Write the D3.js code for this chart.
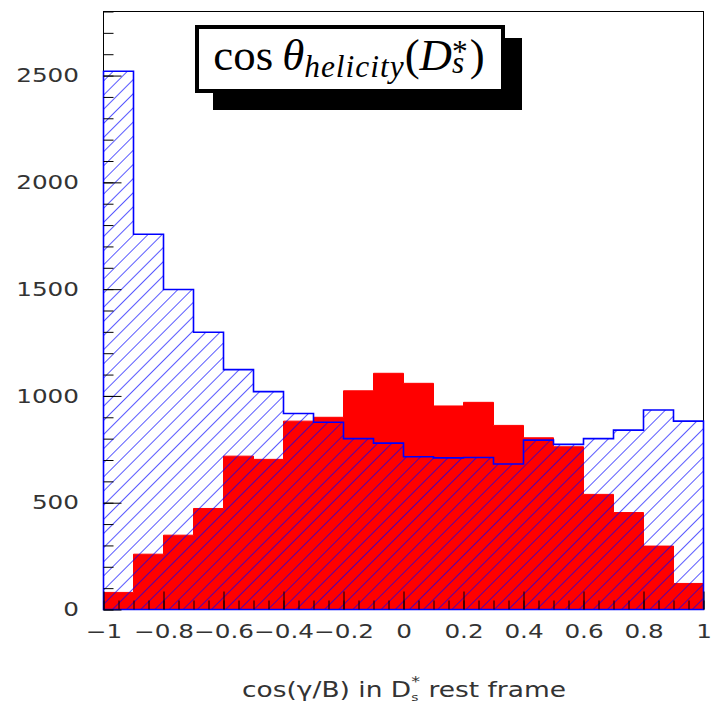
<!DOCTYPE html>
<html><head><meta charset="utf-8">
<script src="https://cdn.jsdelivr.net/npm/d3@7"></script>
<style>body{margin:0;background:#fff}</style>
</head><body>
<svg id="chart" width="713" height="704" xmlns="http://www.w3.org/2000/svg"></svg>
<script>
// ---------- data ----------
const binEdges = [-1,-0.9,-0.8,-0.7,-0.6,-0.5,-0.4,-0.3,-0.2,-0.1,0,0.1,0.2,0.3,0.4,0.5,0.6,0.7,0.8,0.9,1];
// blue hatched histogram
const allCandidates = [2520,1757,1498,1298,1123,1020,918,877,800,779,715,710,712,681,793,773,800,840,934,882];
// red filled histogram
const signal = [80,259,348,473,718,703,882,900,1024,1106,1059,953,970,862,804,762,539,454,297,122];
const xTickValues = [-1,-0.8,-0.6,-0.4,-0.2,0,0.2,0.4,0.6,0.8,1];
const xTickLabels = ["\u22121","\u22120.8","\u22120.6","\u22120.4","\u22120.2","0","0.2","0.4","0.6","0.8","1"];
const yTickValues = [0,500,1000,1500,2000,2500];
const yTickLabels = ["0","500","1000","1500","2000","2500"];
const xTitle = {main:"cos(\u03b3/B) in D", sub:"s", sup:"*", rest:" rest frame"};

// ---------- scales ----------
const svg = d3.select("#chart");
const x = d3.scaleLinear().domain([-1,1]).range([103.5,703.5]);
const y = d3.scaleLinear().domain([0,2800]).range([609.5,11.5]);

// hatch pattern
const defs = svg.append("defs");
defs.append("pattern").attr("id","hatch").attr("patternUnits","userSpaceOnUse")
  .attr("width",10).attr("height",10).attr("patternTransform","rotate(45)")
  .append("line").attr("x1",0).attr("y1",-1).attr("x2",0).attr("y2",11)
  .attr("stroke","#0000ff").attr("stroke-width",1.3);

// frame
svg.append("rect").attr("x",x(-1)).attr("y",y(2800)).attr("width",x(1)-x(-1)).attr("height",y(0)-y(2800))
  .attr("fill","none").attr("stroke","#000").attr("stroke-width",1);

function stepPoints(vals){
  const pts=[[binEdges[0],0]];
  vals.forEach((v,i)=>{pts.push([binEdges[i],v]);pts.push([binEdges[i+1],v]);});
  pts.push([binEdges[binEdges.length-1],0]);
  return pts;
}
const line = d3.line().x(d=>x(d[0])).y(d=>y(d[1]));

svg.append("path").attr("d",line(stepPoints(signal))+"Z")
  .attr("fill","#ff0000").attr("stroke","#ff0000").attr("stroke-width",1);
svg.append("path").attr("d",line(stepPoints(allCandidates))+"Z")
  .attr("fill","url(#hatch)").attr("stroke","#0000ff").attr("stroke-width",1.6);

// ---------- axes ----------
const tickFont = {family:"DejaVu Sans", size:19, sx:1.3, color:"#333"};
// y minor
svg.append("g").attr("transform",`translate(${x(-1)},0)`)
  .call(d3.axisLeft(y).tickValues(d3.range(0,29).map(i=>i*100)).tickSize(-10).tickFormat(""))
  .call(g=>g.select(".domain").remove())
  .call(g=>g.selectAll("line").attr("stroke","#000"));
// y major
svg.append("g").attr("transform",`translate(${x(-1)},0)`)
  .call(d3.axisLeft(y).tickValues(yTickValues).tickSize(-18).tickPadding(24)
        .tickFormat((d,i)=>yTickLabels[i]))
  .call(g=>g.select(".domain").remove())
  .call(g=>g.selectAll("line").attr("stroke","#000"))
  .call(g=>g.selectAll("text").attr("font-family",tickFont.family).attr("font-size",tickFont.size)
        .attr("fill",tickFont.color).attr("x",-24.5/tickFont.sx).attr("transform",`scale(${tickFont.sx},1)`));
// x minor
svg.append("g").attr("transform",`translate(0,${y(0)})`)
  .call(d3.axisBottom(x).tickValues(d3.range(0,41).map(i=>-1+i*0.05)).tickSize(-9).tickFormat(""))
  .call(g=>g.select(".domain").remove())
  .call(g=>g.selectAll("line").attr("stroke","#000"));
// x major
svg.append("g").attr("transform",`translate(0,${y(0)})`)
  .call(d3.axisBottom(x).tickValues(xTickValues).tickSize(-18).tickPadding(15)
        .tickFormat((d,i)=>xTickLabels[i]))
  .call(g=>g.select(".domain").remove())
  .call(g=>g.selectAll("line").attr("stroke","#000"))
  .call(g=>g.selectAll("text").attr("font-family",tickFont.family).attr("font-size",tickFont.size)
        .attr("fill",tickFont.color).attr("transform",`scale(${tickFont.sx},1)`));

// x title
const xt = svg.append("text").attr("transform","translate(404,697) scale(1.26,1)").attr("text-anchor","middle")
  .attr("font-family","DejaVu Sans").attr("font-size",21).attr("fill","#333");
xt.append("tspan").text(xTitle.main);
const subT = xt.append("tspan").attr("font-size",11).attr("dy",4).text(xTitle.sub);
const supT = xt.append("tspan").attr("font-size",14).attr("dy",-15).text(xTitle.sup);
xt.append("tspan").attr("dy",11).text(xTitle.rest);
supT.attr("dx",-subT.node().getComputedTextLength());

// ---------- title box ----------
svg.append("rect").attr("x",213).attr("y",38).attr("width",309).attr("height",72).attr("fill","#000");
svg.append("rect").attr("x",197).attr("y",27).attr("width",306).attr("height",64)
  .attr("fill","#fff").attr("stroke","#000").attr("stroke-width",4);

function drawTitle(F){
  svg.select("#ttl").remove();
  const base = 70;
  const t = svg.append("text").attr("id","ttl").attr("x",0).attr("y",base)
    .attr("font-family","Liberation Serif").attr("font-size",F).attr("fill","#000");
  t.append("tspan").attr("y",base).text("cos\u2009");
  t.append("tspan").attr("y",base).attr("font-style","italic").text("\u03b8");
  t.append("tspan").attr("y",base+0.16*F).attr("font-style","italic").attr("font-size",0.7*F)
    .attr("letter-spacing",1).text("helicity");
  t.append("tspan").attr("y",base).attr("letter-spacing",0).text("(");
  t.append("tspan").attr("y",base).attr("font-style","italic").text("D");
  const s = t.append("tspan").attr("y",base+0.07*F).attr("font-style","italic").attr("font-size",0.7*F).text("s");
  const st = t.append("tspan").attr("y",base-0.18*F).attr("font-size",0.7*F).text("*");
  const sw = s.node().getComputedTextLength();
  const stw = st.node().getComputedTextLength();
  st.attr("dx",-sw);
  t.append("tspan").attr("y",base).attr("dx",Math.max(0,sw-stw)+2).text(")");
  return t;
}
let F = 42;
let t = drawTitle(F);
let w = t.node().getBBox().width;
F = F*272/w;
t = drawTitle(F);
w = t.node().getBBox().width;
t.attr("x",349-w/2);
</script>
</body></html>
